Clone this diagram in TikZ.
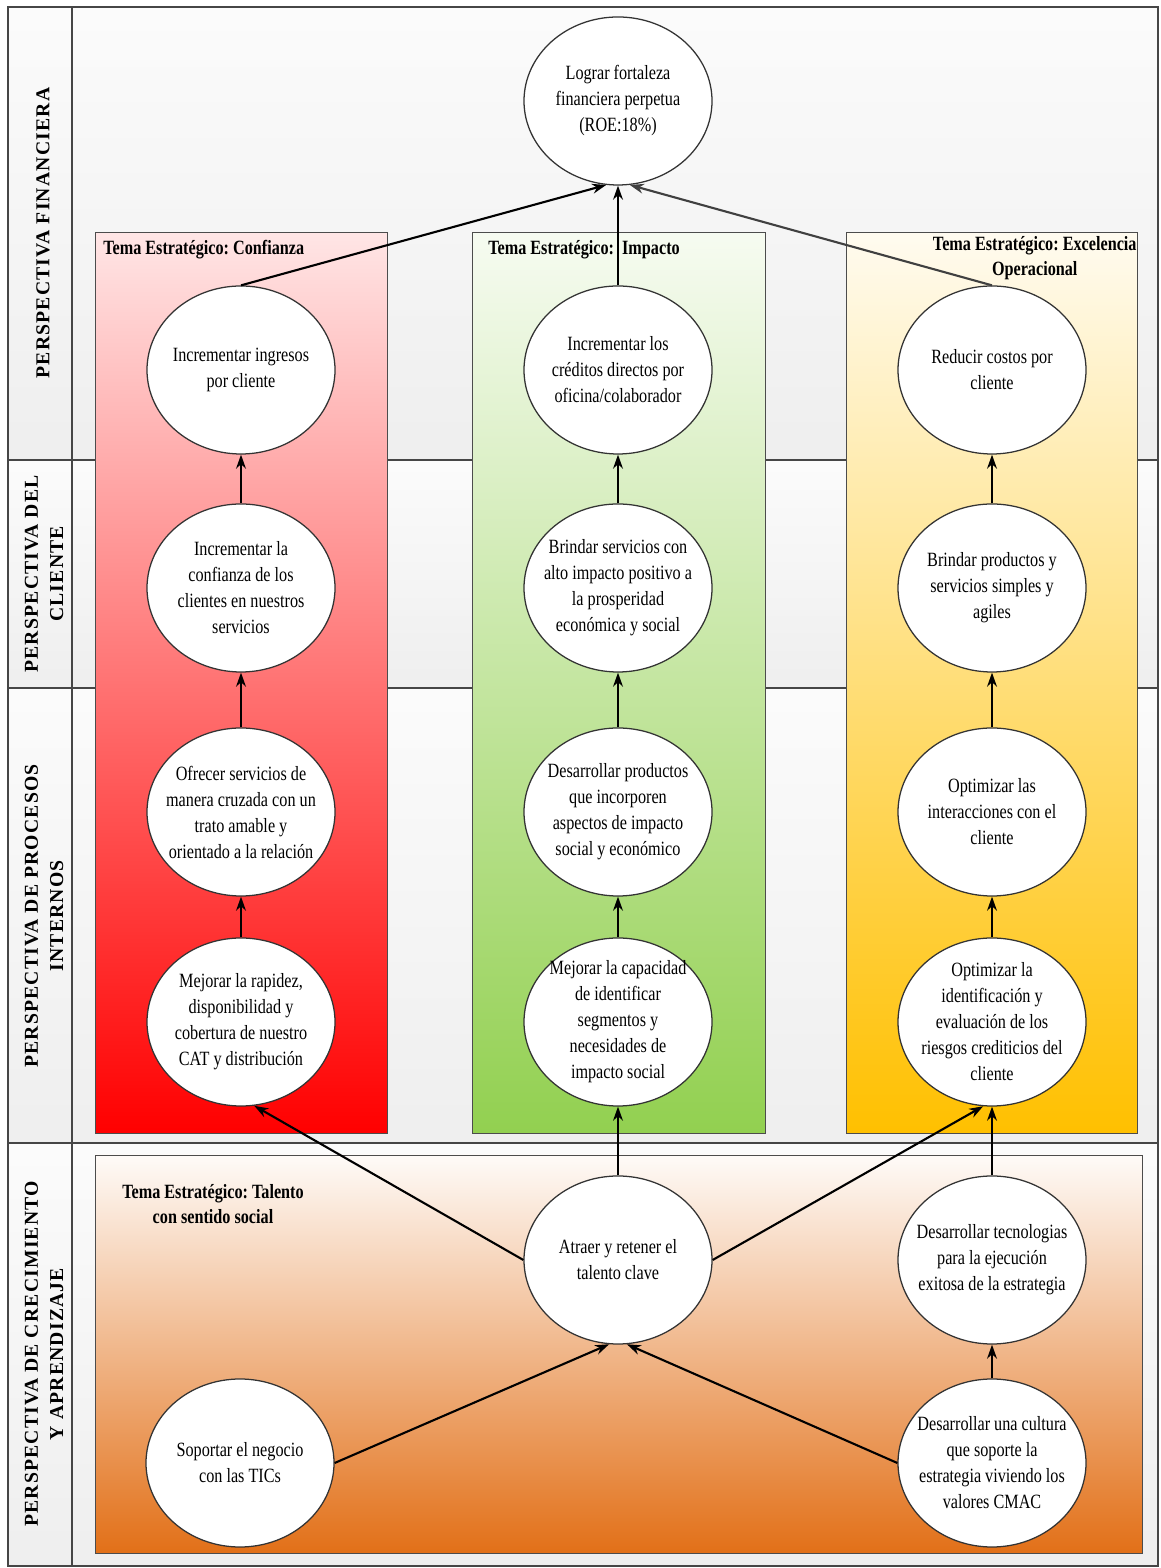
\documentclass[tikz,border=0pt]{standalone}
\usepackage{fontspec}
\setmainfont{Liberation Serif}[FakeStretch=0.8]
\newfontfamily\perspfont{Liberation Serif}[LetterSpace=6]
\usetikzlibrary{arrows.meta, shapes.geometric}
\frenchspacing

\definecolor{framegray}{RGB}{70,70,70}
\definecolor{confred}{RGB}{255,0,0}
\definecolor{impgreen}{RGB}{146,208,80}
\definecolor{excyellow}{RGB}{255,192,0}
\definecolor{talorange}{RGB}{226,112,24}

\tikzset{
	obj/.style={ellipse, draw=black!80, fill=white, line width=0.9pt,
		minimum width=4.7cm, minimum height=4.2cm, inner sep=-1cm,
		align=center, font=\fontsize{14.4}{18.5}\selectfont},
	tema/.style={font=\bfseries\fontsize{14.4}{18}\selectfont, inner sep=0, align=center},
	persp/.style={rotate=90, inner sep=0, align=center,
		font=\perspfont\bfseries\fontsize{14}{18}\selectfont},
	up/.style={->, line width=2pt},
	link/.style={->, line width=1.5pt},
	themebox/.style={draw=black!70, line width=0.7pt}
}

\begin{document}
\begin{tikzpicture}[>={Stealth[length=10pt,width=7pt]}]
	\useasboundingbox (0,0) rectangle (29,39.2);
	
	%rows
	\foreach \ya/\yb in {39.025/27.7, 27.7/22.0, 22.0/10.625, 10.625/0.05}
		\draw[draw=framegray, line width=0.8pt, top color=gray!3, bottom color=gray!13] (0.2,\yb) rectangle (28.95,\ya);
	\draw[framegray, line width=0.8pt] (1.8,0.05) -- (1.8,39.025);
	
	%theme boxes
	\draw[themebox, top color=confred!10, bottom color=confred]     (2.375,10.875) rectangle (9.675,33.375);
	\draw[themebox, top color=impgreen!8, bottom color=impgreen]    (11.8,10.875)  rectangle (19.125,33.375);
	\draw[themebox, top color=excyellow!6, bottom color=excyellow]  (21.15,10.875) rectangle (28.425,33.375);
	\draw[themebox, top color=talorange!3, bottom color=talorange]  (2.375,0.375)  rectangle (28.55,10.325);
	
	%labels
	\node[persp] (pfin) at (1.075,33.375) {PERSPECTIVA FINANCIERA};
	\node[persp] (pcli) at (1.1,24.85)    {PERSPECTIVA DEL\\CLIENTE};
	\node[persp] (ppro) at (1.1,16.3)     {PERSPECTIVA DE PROCESOS\\INTERNOS};
	\node[persp] (pcre) at (1.1,5.35)     {PERSPECTIVA DE CRECIMIENTO\\Y APRENDIZAJE};
	
	\node[tema, anchor=west] (tconf) at (2.575,32.95) {Tema Estratégico: Confianza};
	\node[tema, anchor=west] (timp)  at (12.2,32.95)  {Tema Estratégico:\ \ Impacto};
	\node[tema, anchor=east] (texc)  at (28.42,32.75) {Tema Estratégico: Excelencia\\Operacional};
	\node[tema]              (ttal)  at (5.325,9.1)   {Tema Estratégico: Talento\\con sentido social};
	
	%ellipses
	\node[obj] (fin)       at (15.45,36.675) {Lograr fortaleza\\financiera perpetua\\(ROE:18\%)};
	
	\node[obj] (ingresos)  at (6.025,29.95) {Incrementar ingresos\\por cliente};
	\node[obj] (creditos)  at (15.45,29.95) {Incrementar los\\créditos directos por\\oficina/colaborador};
	\node[obj] (costos)    at (24.8,29.95)  {Reducir costos por\\cliente};
	
	\node[obj] (confianza) at (6.025,24.5) {Incrementar la\\confianza de los\\clientes en nuestros\\servicios};
	\node[obj] (impacto)   at (15.45,24.5) {Brindar servicios con\\alto impacto positivo a\\la prosperidad\\económica y social};
	\node[obj] (simples)   at (24.8,24.5)  {Brindar productos y\\servicios simples y\\agiles};
	
	\node[obj] (ofrecer)   at (6.025,18.9) {Ofrecer servicios de\\manera cruzada con un\\trato amable y\\orientado a la relación};
	\node[obj] (productos) at (15.45,18.9) {Desarrollar productos\\que incorporen\\aspectos de impacto\\social y económico};
	\node[obj] (interac)   at (24.8,18.9)  {Optimizar las\\interacciones con el\\cliente};
	
	\node[obj] (rapidez)   at (6.025,13.65) {Mejorar la rapidez,\\disponibilidad y\\cobertura de nuestro\\CAT y distribución};
	\node[obj] (capacidad) at (15.45,13.65) {Mejorar la capacidad\\de identificar\\segmentos y\\necesidades de\\impacto social};
	\node[obj] (riesgos)   at (24.8,13.65)  {Optimizar la\\identificación y\\evaluación de los\\riesgos crediticios del\\cliente};
	
	\node[obj] (atraer)    at (15.45,7.7)  {Atraer y retener el\\talento clave};
	\node[obj] (tecno)     at (24.8,7.7)   {Desarrollar tecnologias\\para la ejecución\\exitosa de la estrategia};
	\node[obj] (soportar)  at (6.0,2.625)  {Soportar el negocio\\con las TICs};
	\node[obj] (cultura)   at (24.8,2.625) {Desarrollar una cultura\\que soporte la\\estrategia viviendo los\\valores CMAC};
	
	%arrows
	\draw[link] (ingresos.north) -- (fin.-98);
	\draw[up]   (creditos.north) -- (fin.south);
	\draw[link, black!75] (costos.north) -- (fin.-82);
	
	\draw[up] (confianza.north) -- (ingresos.south);
	\draw[up] (impacto.north)   -- (creditos.south);
	\draw[up] (simples.north)   -- (costos.south);
	
	\draw[up] (ofrecer.north)   -- (confianza.south);
	\draw[up] (productos.north) -- (impacto.south);
	\draw[up] (interac.north)   -- (simples.south);
	
	\draw[up] (rapidez.north)   -- (ofrecer.south);
	\draw[up] (capacidad.north) -- (productos.south);
	\draw[up] (riesgos.north)   -- (interac.south);
	
	\draw[link] (atraer.west)  -- (rapidez.-81);		%to Confianza
	\draw[up]   (atraer.north) -- (capacidad.south);	%to Impacto
	\draw[link] (atraer.east)  -- (riesgos.-96);		%to Excelencia
	\draw[up]   (tecno.north)  -- (riesgos.south);
	\draw[up]   (cultura.north) -- (tecno.south);
	\draw[link] (soportar.east) -- (atraer.-96);
	\draw[link] (cultura.west)  -- (atraer.-84);
\end{tikzpicture}
\end{document}
